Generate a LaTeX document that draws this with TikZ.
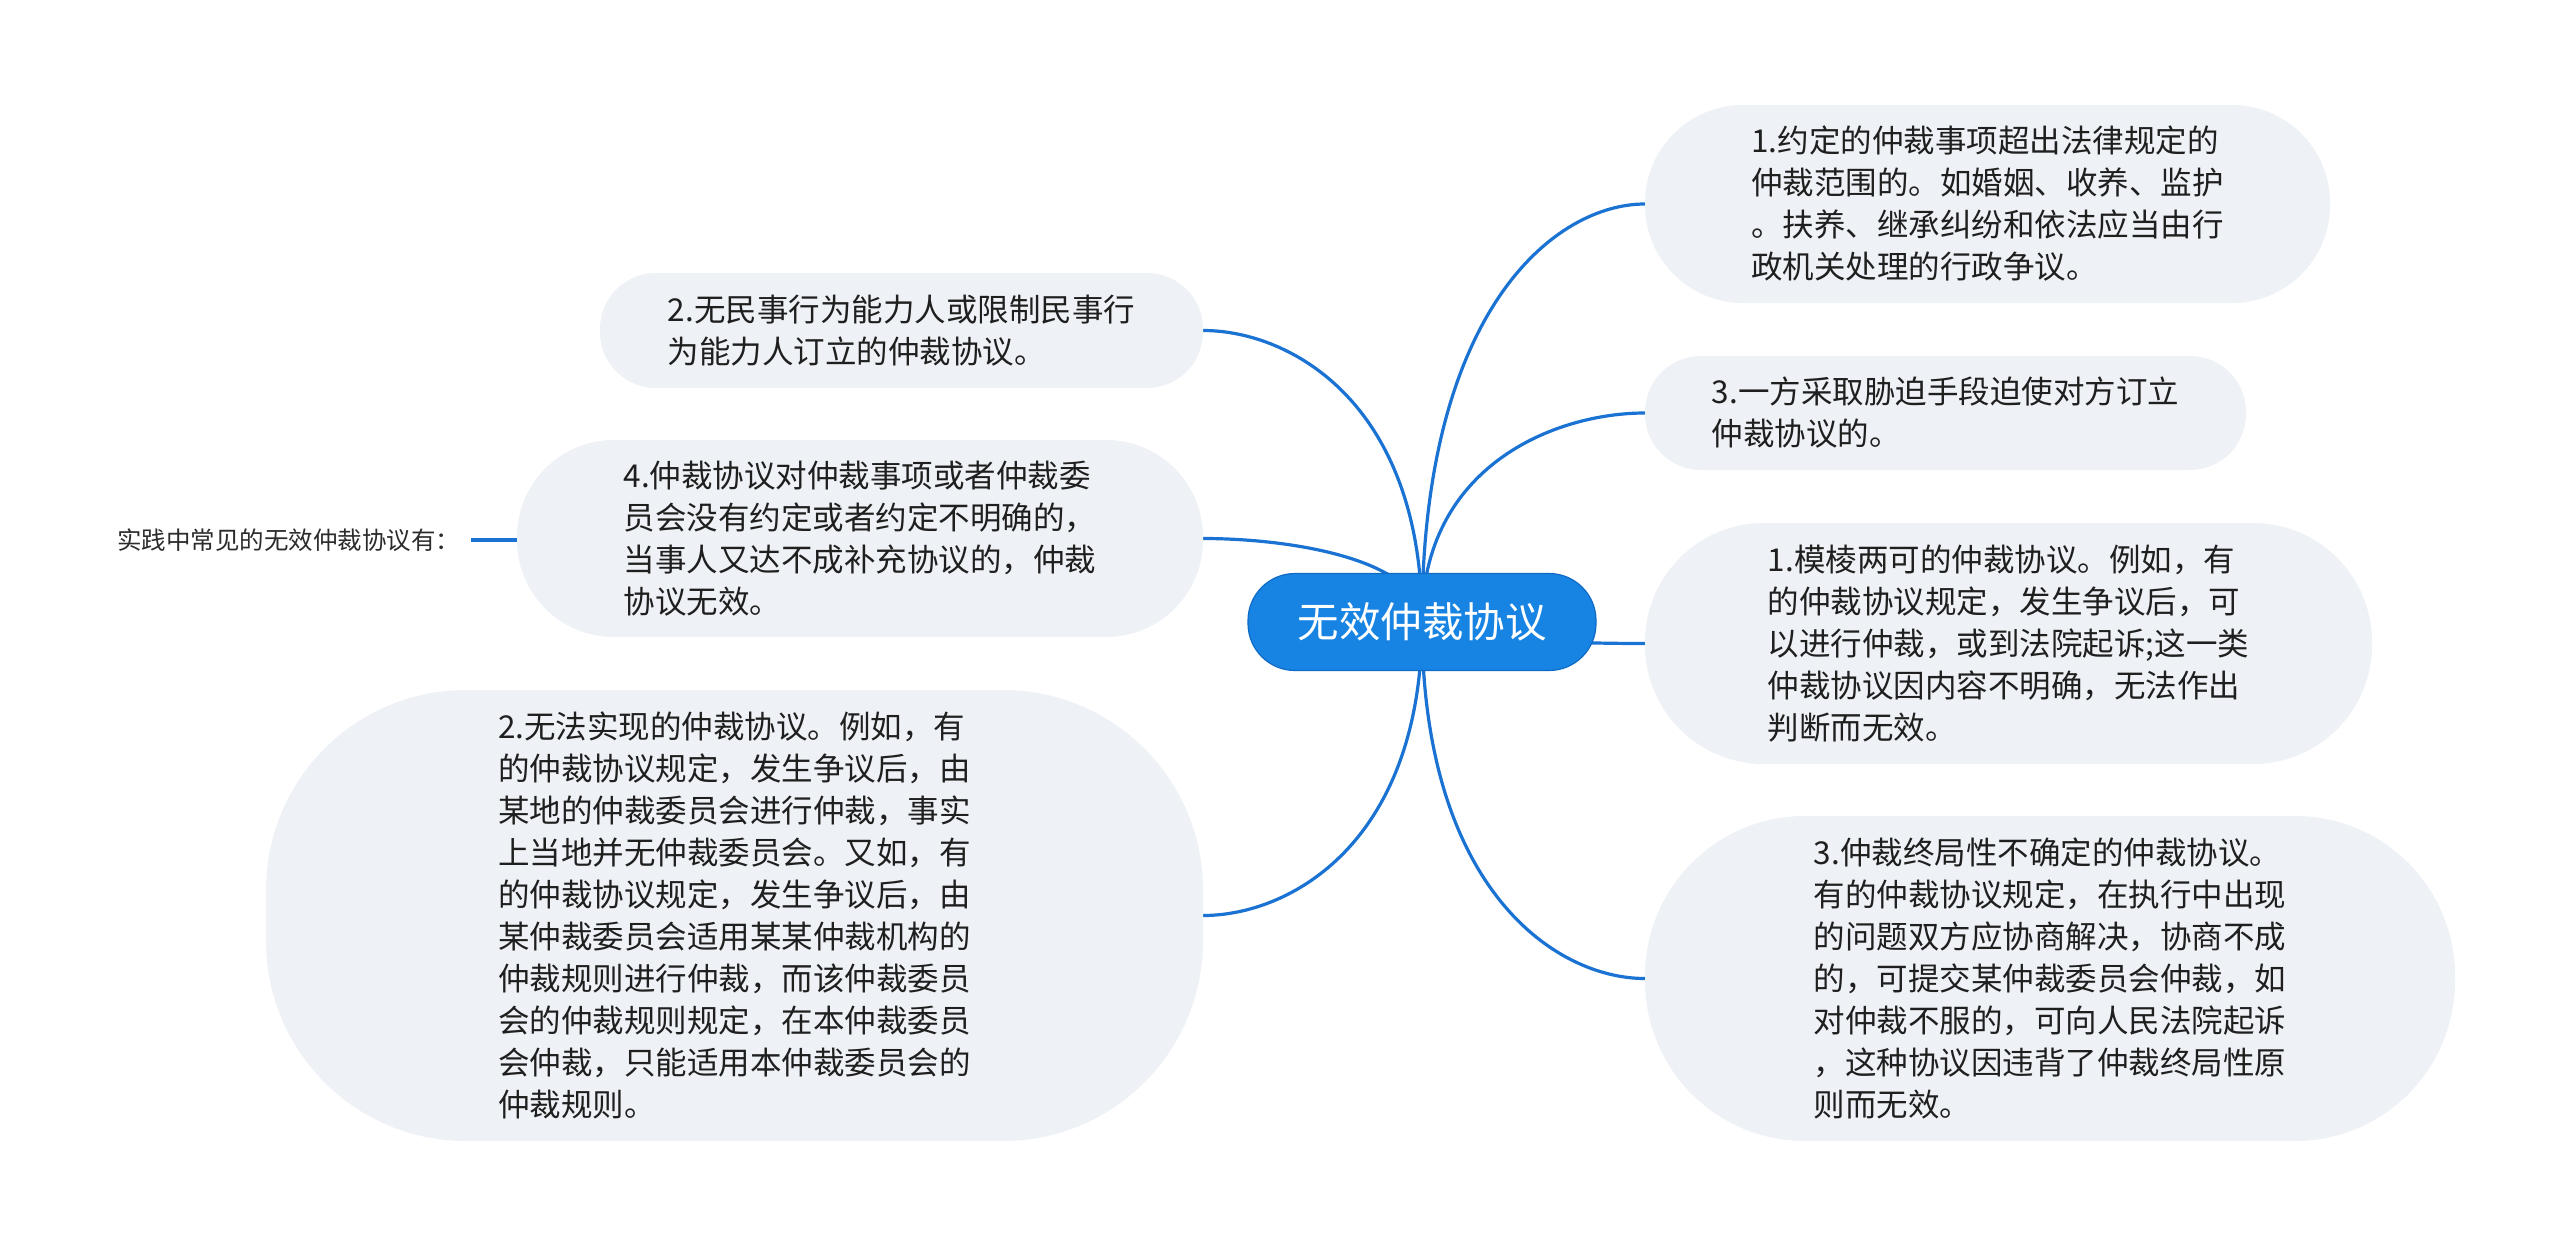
\documentclass[tikz,border=0pt]{standalone}
\usepackage{fontspec}
\setmainfont{Noto Sans CJK SC}
\usetikzlibrary{calc}
\definecolor{nodefill}{HTML}{EEF1F5}
\definecolor{linkc}{HTML}{1A72D2}
\definecolor{rootfill}{HTML}{1784E3}
\definecolor{rootdraw}{HTML}{0F6BC6}
\definecolor{textc}{HTML}{1F1F1F}
\definecolor{lblc}{HTML}{2B2B2B}
\pgfdeclarelayer{back}
\pgfdeclarelayer{links}
\pgfsetlayers{back,links,main}
\newcommand{\mmlink}[2]{\draw[linkst] (root.center) .. controls ($(root.center)!0.75!(root.center |- #1.#2)$) and ($(root.center |- #1.#2)!0.6!(#1.#2)$) .. (#1.#2);}
\begin{document}
\begin{tikzpicture}[x=1pt,y=-1pt,
  box/.style={fill=nodefill, draw=none, inner sep=0pt, align=left, text=textc, font=\fontsize{31.5}{42}\selectfont},
  rootbox/.style={fill=rootfill, draw=rootdraw, line width=1.2pt, rounded corners=47pt, minimum width=348pt, minimum height=97pt, inner sep=0pt, text=white, font=\fontsize{41.5}{48}\selectfont},
  linkst/.style={draw=linkc, line width=3.2pt},
  lblst/.style={text=lblc, inner xsep=11pt, inner ysep=0pt, font=\fontsize{24.5}{29}\selectfont}]
\begin{pgfonlayer}{back}
\path[fill=white, use as bounding box] (0,0) rectangle (2560,1245);
\end{pgfonlayer}
\node[rootbox] (root) at (1422,622) {无效仲裁协议};
\node[box, minimum width=685pt, minimum height=198pt, rounded corners=98pt] (R1) at (1987.5,204) {1.约定的仲裁事项超出法律规定的\\仲裁范围的。如婚姻、收养、监护\\。扶养、继承纠纷和依法应当由行\\政机关处理的行政争议。};
\node[box, minimum width=601pt, minimum height=114pt, rounded corners=56pt] (R3) at (1945.5,413) {3.一方采取胁迫手段迫使对方订立\\仲裁协议的。};
\node[box, minimum width=727pt, minimum height=241pt, rounded corners=119pt] (R1b) at (2008.5,643.5) {1.模棱两可的仲裁协议。例如，有\\的仲裁协议规定，发生争议后，可\\以进行仲裁，或到法院起诉;这一类\\仲裁协议因内容不明确，无法作出\\判断而无效。};
\node[box, minimum width=810pt, minimum height=325pt, rounded corners=160pt] (R3b) at (2050,978.5) {3.仲裁终局性不确定的仲裁协议。\\有的仲裁协议规定，在执行中出现\\的问题双方应协商解决，协商不成\\的，可提交某仲裁委员会仲裁，如\\对仲裁不服的，可向人民法院起诉\\，这种协议因违背了仲裁终局性原\\则而无效。};
\node[box, minimum width=603pt, minimum height=115pt, rounded corners=56pt] (L2) at (901.5,330.5) {2.无民事行为能力人或限制民事行\\为能力人订立的仲裁协议。};
\node[box, minimum width=686pt, minimum height=197pt, rounded corners=97pt] (L4) at (860,538.5) {4.仲裁协议对仲裁事项或者仲裁委\\员会没有约定或者约定不明确的，\\当事人又达不成补充协议的，仲裁\\协议无效。};
\node[box, minimum width=937pt, minimum height=451pt, rounded corners=200pt] (L2b) at (734.5,915.5) {2.无法实现的仲裁协议。例如，有\\的仲裁协议规定，发生争议后，由\\某地的仲裁委员会进行仲裁，事实\\上当地并无仲裁委员会。又如，有\\的仲裁协议规定，发生争议后，由\\某仲裁委员会适用某某仲裁机构的\\仲裁规则进行仲裁，而该仲裁委员\\会的仲裁规则规定，在本仲裁委员\\会仲裁，只能适用本仲裁委员会的\\仲裁规则。};
\node[lblst, anchor=west] (lbl) at (106,540) {实践中常见的无效仲裁协议有：};
\begin{pgfonlayer}{links}
\mmlink{R1}{west}
\mmlink{R3}{west}
\mmlink{R1b}{west}
\mmlink{R3b}{west}
\mmlink{L2}{east}
\mmlink{L4}{east}
\mmlink{L2b}{east}
\draw[linkst] (lbl.east) -- (lbl.east -| L4.west);
\end{pgfonlayer}
\end{tikzpicture}
\end{document}
